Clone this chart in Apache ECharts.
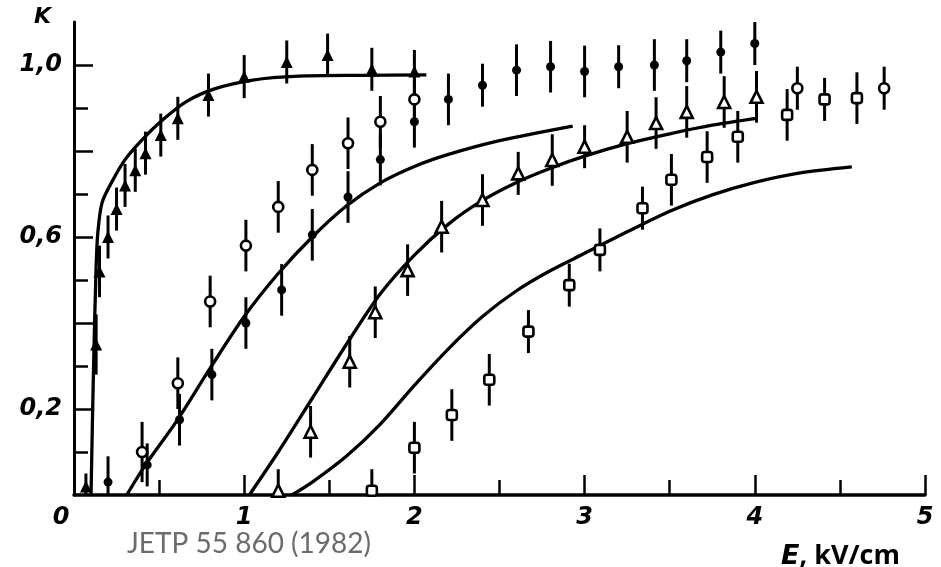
<!DOCTYPE html>
<html>
<head>
<meta charset="utf-8">
<script src="https://cdn.jsdelivr.net/npm/echarts@6/dist/echarts.min.js"></script>
<style>
  html, body { margin: 0; padding: 0; background: #fff; }
  #chart { width: 941px; height: 567px; }
</style>
</head>
<body>
<div id="chart"></div>
<script>
// Field dependence of K(E). Each point: [E (kV/cm), K, error half-width]
const filledTriangles = [
  [0.07, 0.02, 0.03], [0.13, 0.35, 0.07], [0.15, 0.52, 0.06], [0.20, 0.60, 0.05],
  [0.25, 0.665, 0.05], [0.30, 0.72, 0.05], [0.36, 0.755, 0.05], [0.42, 0.795, 0.05],
  [0.51, 0.837, 0.05], [0.61, 0.876, 0.05], [0.79, 0.93, 0.05], [1.00, 0.973, 0.05],
  [1.25, 1.007, 0.05], [1.49, 1.023, 0.05], [1.75, 0.99, 0.05], [2.00, 0.985, 0.05]
];
const filledDots = [
  [0.20, 0.03, 0.06], [0.43, 0.07, 0.05], [0.62, 0.175, 0.06], [0.81, 0.28, 0.06],
  [1.01, 0.40, 0.06], [1.22, 0.477, 0.06], [1.40, 0.605, 0.06], [1.61, 0.693, 0.06],
  [1.80, 0.78, 0.06], [2.00, 0.868, 0.06], [2.20, 0.92, 0.06], [2.40, 0.953, 0.05],
  [2.60, 0.988, 0.06], [2.80, 0.996, 0.06], [3.00, 0.985, 0.06], [3.20, 0.996, 0.05],
  [3.41, 1.00, 0.06], [3.60, 1.01, 0.05], [3.80, 1.03, 0.05], [4.00, 1.05, 0.05]
];
const openCircles = [
  [0.40, 0.10, 0.07], [0.61, 0.26, 0.06], [0.80, 0.45, 0.06], [1.01, 0.58, 0.06],
  [1.20, 0.67, 0.06], [1.40, 0.756, 0.06], [1.61, 0.818, 0.06], [1.80, 0.868, 0.06],
  [2.00, 0.92, 0.05], [4.25, 0.946, 0.05], [4.76, 0.946, 0.05]
];
const openTriangles = [
  [1.20, 0.01, 0.05], [1.39, 0.147, 0.06], [1.62, 0.31, 0.06], [1.77, 0.425, 0.06],
  [1.96, 0.523, 0.06], [2.16, 0.624, 0.06], [2.40, 0.686, 0.06], [2.61, 0.748, 0.05],
  [2.81, 0.779, 0.06], [3.00, 0.81, 0.05], [3.25, 0.833, 0.06], [3.42, 0.865, 0.06],
  [3.60, 0.891, 0.06], [3.82, 0.914, 0.06], [4.01, 0.926, 0.06]
];
const openSquares = [
  [1.75, 0.01, 0.05], [2.00, 0.11, 0.06], [2.22, 0.186, 0.06], [2.44, 0.268, 0.06],
  [2.67, 0.38, 0.05], [2.91, 0.488, 0.05], [3.09, 0.57, 0.05], [3.34, 0.667, 0.05],
  [3.51, 0.733, 0.06], [3.72, 0.786, 0.06], [3.90, 0.833, 0.06], [4.19, 0.884, 0.06],
  [4.41, 0.92, 0.05], [4.60, 0.923, 0.06]
];

// Calculated curves, [E, K]
const curveA = [
  [0.10, 0], [0.115, 0.30], [0.13, 0.53], [0.14, 0.61], [0.165, 0.68], [0.225, 0.73],
  [0.30, 0.78], [0.40, 0.826], [0.52, 0.872], [0.66, 0.915], [0.83, 0.945], [1.05, 0.965],
  [1.32, 0.974], [1.70, 0.976], [2.07, 0.977]
];
const curveB = [
  [0.31, 0], [0.42, 0.07], [0.60, 0.17], [0.80, 0.295], [1.00, 0.415], [1.20, 0.515],
  [1.40, 0.600], [1.60, 0.672], [1.80, 0.726], [2.00, 0.764], [2.20, 0.792], [2.50, 0.824],
  [2.93, 0.858]
];
const curveC = [
  [1.03, 0], [1.20, 0.10], [1.40, 0.225], [1.60, 0.350], [1.80, 0.468], [2.00, 0.558],
  [2.20, 0.630], [2.40, 0.685], [2.60, 0.727], [2.80, 0.760], [3.00, 0.788], [3.25, 0.817],
  [3.50, 0.840], [3.75, 0.860], [4.01, 0.876]
];
const curveD = [
  [1.28, 0], [1.40, 0.03], [1.60, 0.09], [1.80, 0.165], [2.00, 0.255], [2.20, 0.340],
  [2.40, 0.415], [2.60, 0.475], [2.80, 0.522], [3.00, 0.562], [3.25, 0.612], [3.50, 0.660],
  [3.75, 0.698], [4.00, 0.727], [4.25, 0.748], [4.57, 0.763]
];

// Axis ticks and labels
const yMajorTicks = [0.2, 0.4, 0.6, 0.8, 1.0];
const yMinorTicks = [0.1, 0.3, 0.5, 0.7, 0.9];
const yLabelValues = [0.2, 0.6, 1.0];
const yLabelText = { 0.2: '0,2', 0.6: '0,6', 1: '1,0' };

const INK = '#000';
const tickFont = { fontFamily: 'DejaVu Sans', fontWeight: 'bold', fontStyle: 'italic', fontSize: 24, color: INK };

function errorBars(data) {
  return {
    type: 'custom',
    data: data,
    z: 3,
    renderItem: function (params, api) {
      const x = api.value(0), y = api.value(1), e = api.value(2);
      const p1 = api.coord([x, Math.max(0, y - e)]);
      const p2 = api.coord([x, y + e]);
      return {
        type: 'line',
        shape: { x1: p1[0], y1: p1[1], x2: p2[0], y2: p2[1] },
        style: { stroke: INK, lineWidth: 3 }
      };
    }
  };
}
function curve(data) {
  return {
    type: 'line', data: data, smooth: 0.3,
    showSymbol: false, symbol: 'none', z: 2,
    lineStyle: { color: INK, width: 3.3 }
  };
}
function points(data, symbol, size, filled) {
  return {
    type: 'scatter', data: data, symbol: symbol, symbolSize: size, z: 5,
    itemStyle: filled
      ? { color: INK, opacity: 1 }
      : { color: '#fff', borderColor: INK, borderWidth: 2.6, opacity: 1 }
  };
}

const chart = echarts.init(document.getElementById('chart'), null, { renderer: 'canvas' });
chart.setOption({
  animation: false,
  backgroundColor: '#fff',
  grid: { left: 74, right: 16, top: 22, bottom: 72 },
  xAxis: {
    type: 'value', min: 0, max: 5, interval: 1,
    axisLine: { lineStyle: { color: INK, width: 3.5 } },
    axisTick: { inside: true, length: 20, lineStyle: { color: INK, width: 2.5 } },
    minorTick: { show: true, splitNumber: 2, length: 15, lineStyle: { color: INK, width: 2.5 } },
    splitLine: { show: false },
    axisLabel: Object.assign({}, tickFont, {
      margin: 11,
      formatter: function (v) { return v === 0 ? '{z|0}' : String(v); },
      rich: { z: Object.assign({}, tickFont, { padding: [0, 26, 0, 0] }) }
    })
  },
  yAxis: [
    {
      type: 'value', min: 0, max: 1.1,
      axisLine: { show: true, lineStyle: { color: INK, width: 3 } },
      axisTick: { show: true, inside: true, length: 19, customValues: yMajorTicks, lineStyle: { color: INK, width: 2.5 } },
      splitLine: { show: false },
      axisLabel: Object.assign({}, tickFont, {
        margin: 12,
        customValues: yLabelValues,
        formatter: function (v) { return yLabelText[Math.round(v * 10) / 10] || ''; }
      })
    },
    {
      type: 'value', min: 0, max: 1.1, position: 'left',
      axisLine: { show: false },
      axisTick: { show: true, inside: true, length: 14, customValues: yMinorTicks, lineStyle: { color: INK, width: 2.5 } },
      axisLabel: { show: false },
      splitLine: { show: false }
    }
  ],
  graphic: [
    { type: 'text', left: 34, top: 6, style: Object.assign({ text: 'K' }, tickFont, { fill: INK, fontSize: 22 }) },
    {
      type: 'text', left: 781, top: 543,
      style: {
        text: '{e|E}{u|, kV/cm}',
        rich: {
          e: { fontFamily: 'DejaVu Sans', fontWeight: 'bold', fontStyle: 'italic', fontSize: 27, fill: INK },
          u: { fontFamily: 'Open Sans', fontWeight: 'bold', fontSize: 27, fill: INK }
        }
      }
    },
    {
      type: 'text', left: 127, top: 530,
      style: { text: 'JETP 55 860 (1982)', fontFamily: 'Lato', fontSize: 28, fill: '#6b6b6b' }
    }
  ],
  series: [
    curve(curveA), curve(curveB), curve(curveC), curve(curveD),
    errorBars(filledTriangles), errorBars(filledDots), errorBars(openCircles),
    errorBars(openTriangles), errorBars(openSquares),
    points(filledTriangles, 'triangle', 12, true),
    points(filledDots, 'circle', 9, true),
    points(openCircles, 'circle', 10, false),
    points(openTriangles, 'triangle', 12, false),
    points(openSquares, 'roundRect', 10, false)
  ]
});
</script>
</body>
</html>
